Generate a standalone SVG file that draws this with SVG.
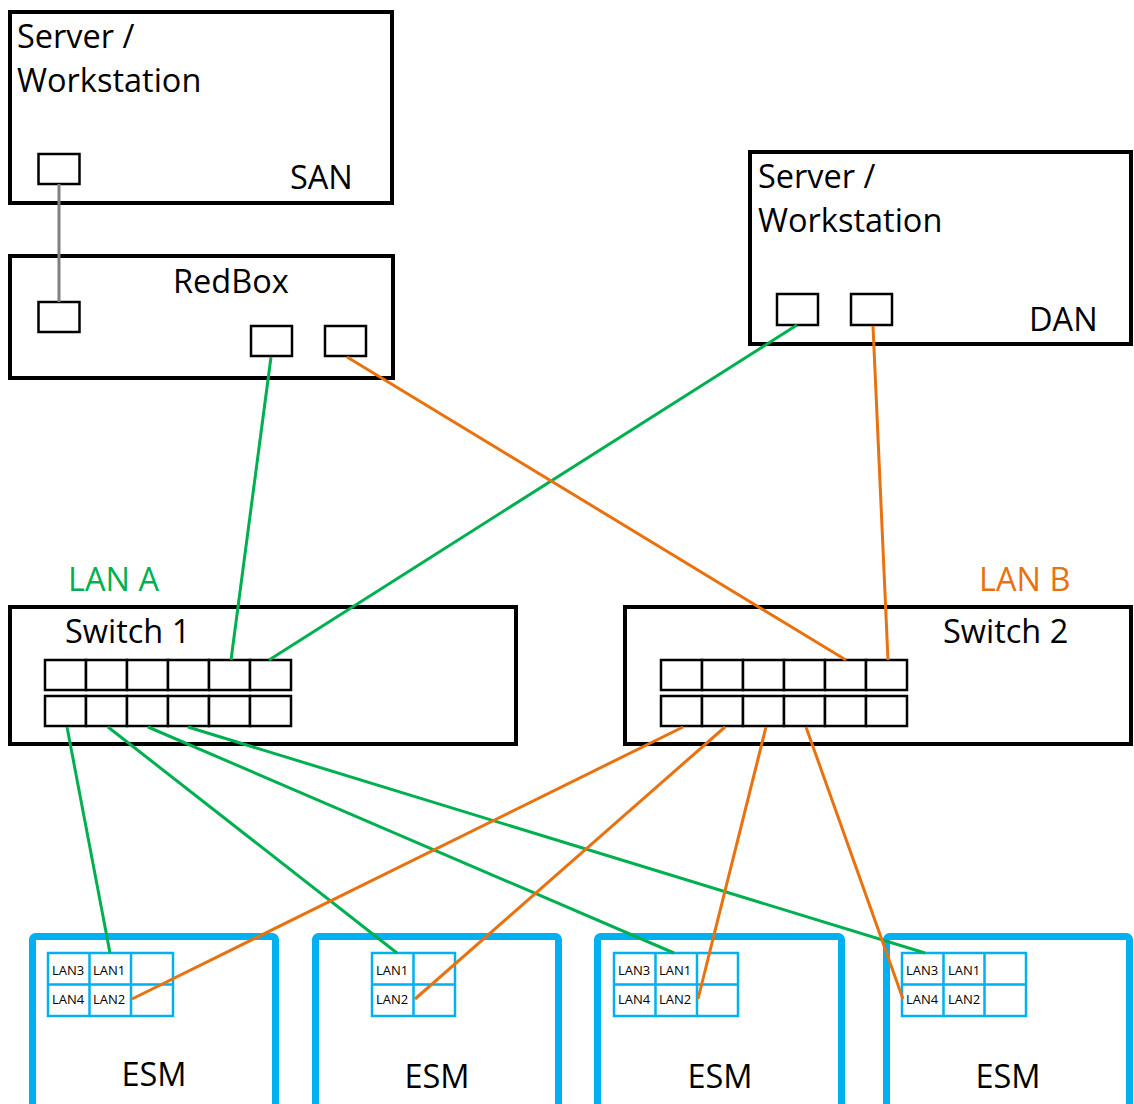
<svg xmlns="http://www.w3.org/2000/svg" width="1134" height="1104" viewBox="0 0 1134 1104">
<style>
text{font-family:"Open Sans","Noto Sans",sans-serif;fill:#000}
.big{font-size:32.5px}
.small{font-size:13px}
.box{fill:#fff;stroke:#000;stroke-width:4}
.port{fill:#fff;stroke:#000;stroke-width:2.5}
.esm{fill:#fff;stroke:#00b0f0;stroke-width:7}
.grid{fill:#fff;stroke:#00b0f0;stroke-width:2.5}
.g{stroke:#00b050;stroke-width:3;fill:none}
.o{stroke:#e8720f;stroke-width:3;fill:none}
.gr{stroke:#808080;stroke-width:3;fill:none}
</style>
<rect width="1134" height="1104" fill="#fff"/>
<g id="san">
<rect class="box" x="10" y="12" width="382" height="191"/>
<rect class="port" x="38.5" y="154" width="41" height="30"/>
<text class="big" x="17" y="48">Server /</text>
<text class="big" x="17" y="92">Workstation</text>
<text class="big" x="290" y="189">SAN</text>
</g>
<g id="redbox">
<rect class="box" x="10" y="256" width="383" height="122"/>
<rect class="port" x="38.5" y="302" width="41" height="30"/>
<rect class="port" x="251" y="326" width="41" height="30"/>
<rect class="port" x="325" y="326" width="41" height="30"/>
<text class="big" x="173" y="293">RedBox</text>
</g>
<g id="dan">
<rect class="box" x="750" y="152" width="381" height="192"/>
<rect class="port" x="777" y="294" width="41" height="31"/>
<rect class="port" x="851" y="294" width="41" height="31"/>
<text class="big" x="758" y="188">Server /</text>
<text class="big" x="758" y="232">Workstation</text>
<text class="big" x="1029" y="331">DAN</text>
</g>
<g id="switch1">
<rect class="box" x="10" y="607" width="506" height="137"/>
<g class="port">
<rect x="45" y="660" width="41" height="30"/><rect x="86" y="660" width="41" height="30"/><rect x="127" y="660" width="41" height="30"/><rect x="168" y="660" width="41" height="30"/><rect x="209" y="660" width="41" height="30"/><rect x="250" y="660" width="41" height="30"/>
<rect x="45" y="696" width="41" height="30"/><rect x="86" y="696" width="41" height="30"/><rect x="127" y="696" width="41" height="30"/><rect x="168" y="696" width="41" height="30"/><rect x="209" y="696" width="41" height="30"/><rect x="250" y="696" width="41" height="30"/>
</g>
<text class="big" x="65" y="643">Switch 1</text>
<text class="big" x="68" y="591" style="fill:#00b050">LAN A</text>
</g>
<g id="switch2">
<rect class="box" x="625" y="607" width="506" height="137"/>
<g class="port">
<rect x="661" y="660" width="41" height="30"/><rect x="702" y="660" width="41" height="30"/><rect x="743" y="660" width="41" height="30"/><rect x="784" y="660" width="41" height="30"/><rect x="825" y="660" width="41" height="30"/><rect x="866" y="660" width="41" height="30"/>
<rect x="661" y="696" width="41" height="30"/><rect x="702" y="696" width="41" height="30"/><rect x="743" y="696" width="41" height="30"/><rect x="784" y="696" width="41" height="30"/><rect x="825" y="696" width="41" height="30"/><rect x="866" y="696" width="41" height="30"/>
</g>
<text class="big" x="943" y="643">Switch 2</text>
<text class="big" x="979" y="591" style="fill:#e8720f">LAN B</text>
</g>
<g id="esm1">
<rect class="esm" x="32.5" y="936.5" width="243" height="200" rx="3"/>
<rect class="grid" x="48" y="953" width="125" height="63"/>
<path class="grid" d="M89.5 953V1016M131 953V1016M48 984.5H173"/>
<text class="small" x="52" y="975">LAN3</text><text class="small" x="93" y="975">LAN1</text>
<text class="small" x="52" y="1004">LAN4</text><text class="small" x="93" y="1004">LAN2</text>
<text class="big" x="154" y="1086" text-anchor="middle">ESM</text>
</g>
<g id="esm2">
<rect class="esm" x="315.5" y="936.5" width="243" height="200" rx="3"/>
<rect class="grid" x="372" y="953" width="83" height="63"/>
<path class="grid" d="M413.5 953V1016M372 984.5H455"/>
<text class="small" x="376" y="975">LAN1</text>
<text class="small" x="376" y="1004">LAN2</text>
<text class="big" x="437" y="1088" text-anchor="middle">ESM</text>
</g>
<g id="esm3">
<rect class="esm" x="597.5" y="936.5" width="244" height="200" rx="3"/>
<rect class="grid" x="614" y="953" width="124" height="63"/>
<path class="grid" d="M655.5 953V1016M697 953V1016M614 984.5H738"/>
<text class="small" x="618" y="975">LAN3</text><text class="small" x="659" y="975">LAN1</text>
<text class="small" x="618" y="1004">LAN4</text><text class="small" x="659" y="1004">LAN2</text>
<text class="big" x="720" y="1088" text-anchor="middle">ESM</text>
</g>
<g id="esm4">
<rect class="esm" x="886.5" y="936.5" width="243" height="200" rx="3"/>
<rect class="grid" x="902" y="953" width="124" height="63"/>
<path class="grid" d="M943.5 953V1016M984.5 953V1016M902 984.5H1026"/>
<text class="small" x="906" y="975">LAN3</text><text class="small" x="948" y="975">LAN1</text>
<text class="small" x="906" y="1004">LAN4</text><text class="small" x="948" y="1004">LAN2</text>
<text class="big" x="1008" y="1088" text-anchor="middle">ESM</text>
</g>
<g id="connectors">
<line class="gr" x1="59" y1="184" x2="59" y2="302"/>
<line class="g" x1="271" y1="357" x2="231" y2="660"/>
<line class="g" x1="797" y1="325" x2="269" y2="660"/>
<line class="o" x1="347" y1="357" x2="846" y2="660"/>
<line class="o" x1="873" y1="326" x2="888" y2="660"/>
<line class="g" x1="67" y1="727" x2="110" y2="953"/>
<line class="g" x1="108" y1="727" x2="397" y2="953"/>
<line class="g" x1="148" y1="727" x2="674" y2="953"/>
<line class="g" x1="188" y1="727" x2="925" y2="953"/>
<line class="o" x1="683" y1="727" x2="132" y2="999"/>
<line class="o" x1="725" y1="727" x2="415" y2="999"/>
<line class="o" x1="766" y1="727" x2="698" y2="999"/>
<line class="o" x1="806" y1="727" x2="903" y2="999"/>
</g>
</svg>
